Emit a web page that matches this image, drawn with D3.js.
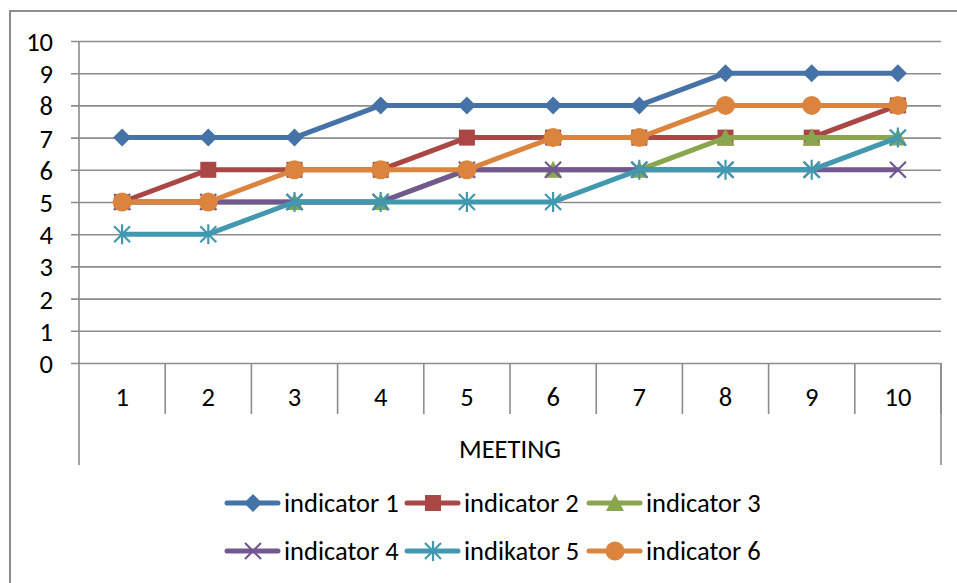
<!DOCTYPE html>
<html><head><meta charset="utf-8">
<script src="https://cdn.jsdelivr.net/npm/d3@7"></script>
<style>body{margin:0;background:#fff}svg{display:block}</style>
</head><body><svg id="c" width="957" height="583"></svg>
<script>
const meetings = ["1","2","3","4","5","6","7","8","9","10"];
const seriesNames = ["indicator 1","indicator 2","indicator 3","indicator 4","indikator 5","indicator 6"];
const ind1 = [7,7,7,8,8,8,8,9,9,9];
const ind2 = [5,6,6,6,7,7,7,7,7,8];
const ind3 = [5,5,5,5,6,6,6,7,7,7];
const ind4 = [5,5,5,5,6,6,6,6,6,6];
const ind5 = [4,4,5,5,5,5,6,6,6,7];
const ind6 = [5,5,6,6,6,7,7,8,8,8];
const yTicks = [0,1,2,3,4,5,6,7,8,9,10];
const colors = ["#4572A7","#AA4643","#89A54E","#71588F","#4198AF","#DB843D"];
const markers = ["diamond","square","triangle","x","star","circle"];
const values = [ind1,ind2,ind3,ind4,ind5,ind6];

const svg = d3.select("#c");
const FONT = "Carlito, Calibri, 'Open Sans', sans-serif";
const FS = 26.5;
const L = 79, R = 941, T = 41, B = 363;
const x = d3.scaleBand().domain(meetings).range([L,R]);
const y = d3.scaleLinear().domain([0,10]).range([B,T]);
const gridCol = "#8c8c8c";

svg.append("path").attr("d","M10,583 L10,11 L957,11").attr("fill","none").attr("stroke",gridCol).attr("stroke-width",2);

const yAxis = d3.axisLeft(y).tickValues(yTicks).tickSize(8).tickPadding(18);
const gy = svg.append("g").attr("transform",`translate(${L},0)`).call(yAxis);
gy.select(".domain").remove();
gy.selectAll(".tick line").attr("stroke",gridCol).attr("stroke-width",1.6).attr("x2",-8).attr("x1",R-L);
gy.selectAll(".tick text").attr("font-family",FONT).attr("font-size",FS).attr("fill","#000").attr("x",-26).attr("dy","0.36em");

svg.append("line").attr("x1",L).attr("x2",L).attr("y1",T).attr("y2",465).attr("stroke",gridCol).attr("stroke-width",1.6);
svg.append("line").attr("x1",R).attr("x2",R).attr("y1",B).attr("y2",465).attr("stroke",gridCol).attr("stroke-width",1.6);

const xAxis = d3.axisBottom(x).tickSize(0).tickPadding(0);
const gx = svg.append("g").attr("transform",`translate(0,${B})`).call(xAxis);
gx.select(".domain").remove();
gx.selectAll(".tick text").attr("font-family",FONT).attr("font-size",FS).attr("fill","#000").attr("y",34).attr("dy","0.35em");
const bounds = meetings.map(m=>x(m)).concat([R]).slice(1);
svg.selectAll("line.sep").data(bounds).enter().append("line").attr("class","sep")
  .attr("x1",d=>d).attr("x2",d=>d).attr("y1",B).attr("y2",414).attr("stroke",gridCol).attr("stroke-width",1.6);

svg.append("text").attr("x",(L+R)/2).attr("y",449).attr("dy","0.35em").attr("text-anchor","middle")
  .attr("font-family",FONT).attr("font-size",FS).text("MEETING");

function drawMarker(g, type, color, cx, cy){
  if(type==="diamond"){
    g.append("path").attr("d",`M${cx},${cy-9}L${cx+9},${cy}L${cx},${cy+9}L${cx-9},${cy}Z`).attr("fill",color);
  } else if(type==="square"){
    g.append("rect").attr("x",cx-8).attr("y",cy-8).attr("width",16).attr("height",16).attr("fill",color);
  } else if(type==="triangle"){
    g.append("path").attr("d",`M${cx},${cy-9}L${cx+9},${cy+8}L${cx-9},${cy+8}Z`).attr("fill",color);
  } else if(type==="circle"){
    g.append("circle").attr("cx",cx).attr("cy",cy).attr("r",9.5).attr("fill",color);
  } else if(type==="x"){
    g.append("path").attr("d",`M${cx-8},${cy-8}L${cx+8},${cy+8}M${cx-8},${cy+8}L${cx+8},${cy-8}`).attr("stroke",color).attr("stroke-width",2.2);
  } else if(type==="star"){
    g.append("path").attr("d",`M${cx-8},${cy-8}L${cx+8},${cy+8}M${cx-8},${cy+8}L${cx+8},${cy-8}M${cx},${cy-10}L${cx},${cy+10}`).attr("stroke",color).attr("stroke-width",2.2);
  }
}

const line = d3.line().x((d,i)=>x(meetings[i])+x.bandwidth()/2).y(d=>y(d));
values.forEach((vals,si)=>{
  const g = svg.append("g");
  g.append("path").datum(vals).attr("d",line).attr("fill","none").attr("stroke",colors[si])
    .attr("stroke-width",5).attr("stroke-linejoin","round").attr("stroke-linecap","round");
  vals.forEach((v,i)=>drawMarker(g,markers[si],colors[si],x(meetings[i])+x.bandwidth()/2,y(v)));
});

const legPos = [[225,503],[405,503],[587,503],[225,551],[405,551],[587,551]];
seriesNames.forEach((n,si)=>{
  const [lx,ly] = legPos[si];
  const g = svg.append("g");
  g.append("line").attr("x1",lx+2).attr("x2",lx+53).attr("y1",ly).attr("y2",ly).attr("stroke",colors[si]).attr("stroke-width",5).attr("stroke-linecap","round");
  drawMarker(g,markers[si],colors[si],lx+28,ly);
  g.append("text").attr("x",lx+59).attr("y",ly).attr("dy","0.35em").attr("font-family",FONT).attr("font-size",FS).text(n);
});
</script></body></html>
